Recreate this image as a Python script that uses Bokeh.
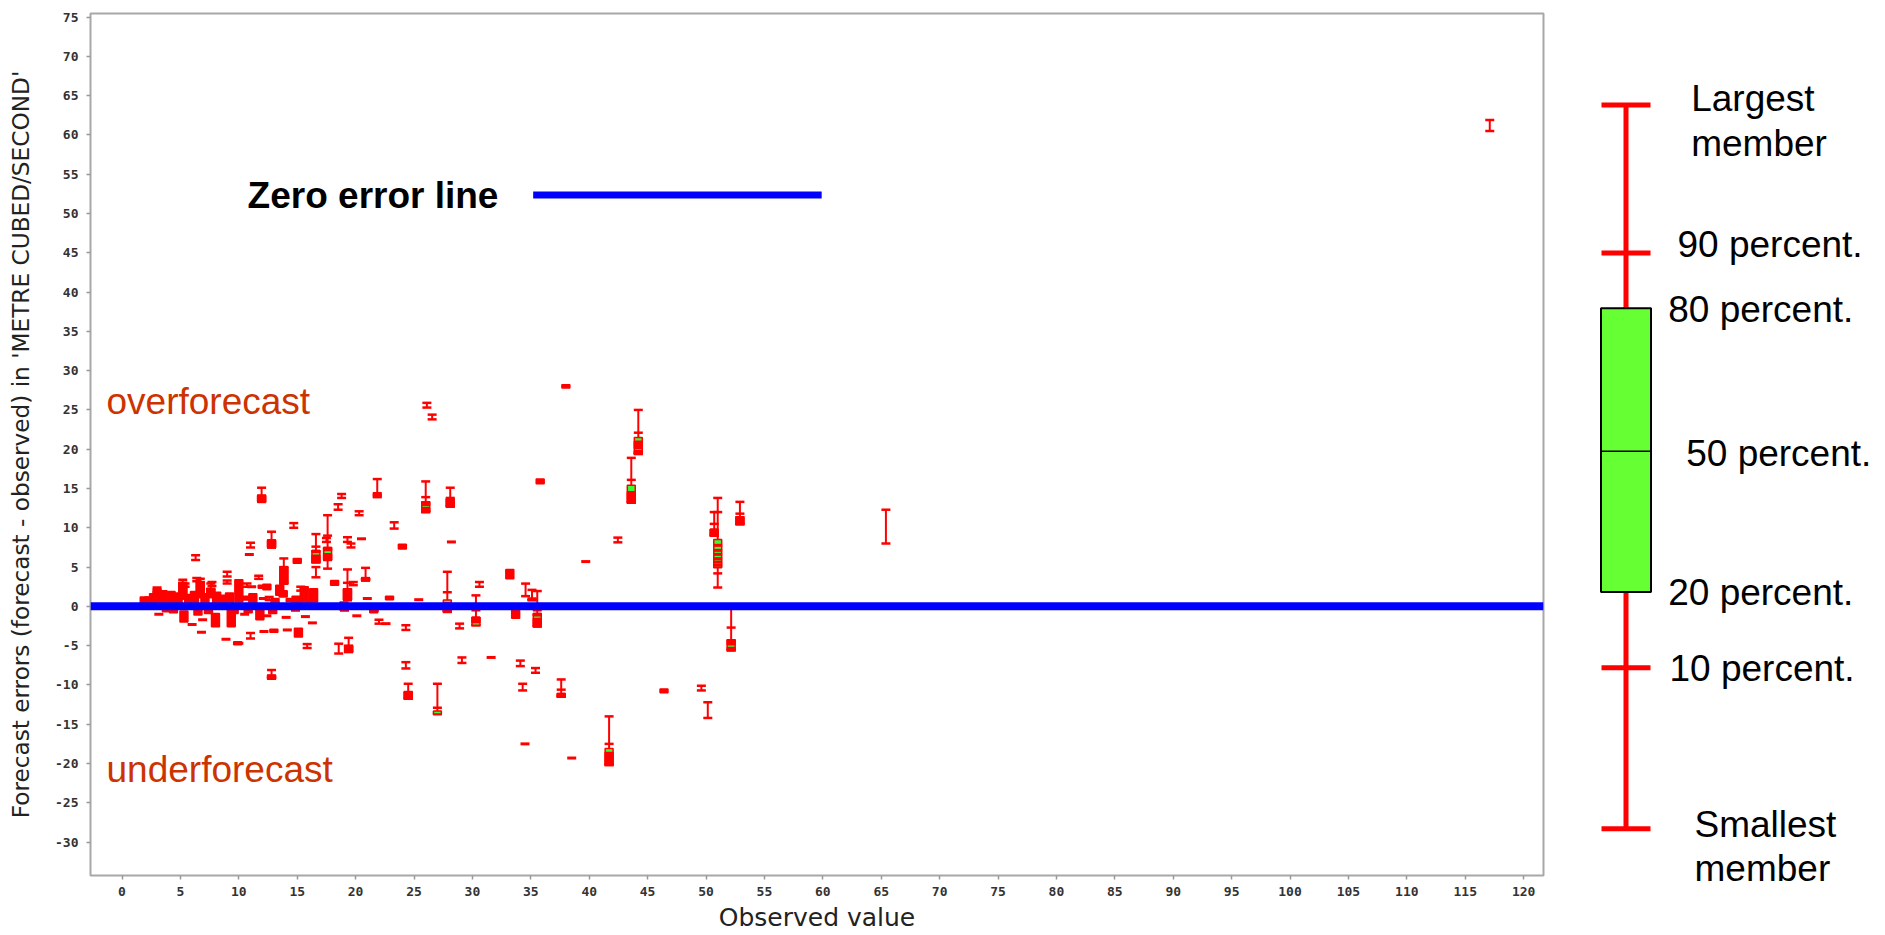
from bokeh.plotting import figure
from bokeh.models import Range1d, FixedTicker, Span, Label, ColumnDataSource
from bokeh.layouts import row
from bokeh.embed import file_html
from bokeh.resources import INLINE

# ---------------- data ----------------
x_ticks = list(range(0, 121, 5))
x_tick_labels = [str(v) for v in x_ticks]
y_ticks = list(range(-30, 76, 5))
y_tick_labels = [str(v) for v in y_ticks]
zero_error = 0.0

# full box-and-whisker summaries
full_obs = [44.2, 43.6, 51.0, 50.7, 52.9, 52.15, 41.7, 35.55, 30.3, 27.85, 26.0, 28.1,
            21.85, 27.0, 24.5, 37.6, 11.95, 12.8, 13.85, 16.6, 17.6, 19.3, 19.4, 12.8,
            20.85, 5.2, 6.7, 7.6, 35.1]
full_min = [19.4, 13.2, 2.4, 9.0, 10.45, -5.6, -20.2, -2.55, -2.4, -0.7, 12.0, 12.7,
            13.9, -13.7, -11.75, -11.5, 13.3, 7.5, 2.9, 5.6, 4.8, 0.8, -5.8, -9.2,
            3.3, 1.0, 1.2, 1.2, 0.8]
full_p10 = [19.4, 13.2, 4.2, 9.0, 10.45, -5.6, -20.2, -2.55, -2.4, -0.7, 12.0, 12.7,
            14.0, -13.7, -11.75, -11.5, 13.3, 7.5, 2.9, 5.6, 5.9, 0.8, -5.8, -9.2,
            3.3, 1.0, 1.2, 1.2, 0.8]
full_p20 = [19.4, 13.2, 4.9, 9.0, 10.45, -5.6, -20.2, -2.55, -2.4, -0.7, 12.0, 12.7,
            14.1, -13.7, -11.75, -11.5, 13.3, 7.5, 2.9, 5.6, 5.9, 0.8, -5.8, -9.2,
            3.3, 1.0, 1.2, 1.2, 0.85]
full_p50 = [20.3, 14.0, 6.6, 9.4, 10.9, -5.0, -19.5, -1.8, -2.0, 0.2, 12.6, 13.2,
            14.2, -13.5, -11.3, -11.3, 13.7, 8.0, 4.0, 6.3, 6.7, 1.5, -5.4, -9.0,
            3.45, 2.0, 2.0, 1.7, 0.9]
full_p80 = [21.5, 15.4, 8.5, 9.8, 11.4, -4.25, -18.1, -0.9, -1.4, 0.8, 13.3, 13.7,
            14.3, -13.3, -10.9, -11.1, 14.1, 8.4, 5.0, 7.1, 7.5, 2.25, -5.0, -8.8,
            3.6, 3.0, 3.1, 2.25, 0.95]
full_p90 = [22.1, 16.1, 12.0, 10.5, 11.8, -2.7, -17.5, -0.5, -0.5, 1.8, 13.9, 13.8,
            14.4, -12.9, -10.9, -10.6, 14.1, 8.4, 5.0, 7.6, 9.0, 3.0, -5.0, -8.8,
            3.6, 3.0, 3.1, 2.25, 1.0]
full_max = [25.0, 18.9, 13.8, 12.0, 13.3, 0.0, -14.0, 1.95, 1.4, 4.4, 15.9, 15.1,
            16.2, -9.85, -9.85, -9.3, 15.1, 9.5, 6.1, 9.2, 11.6, 4.7, -4.0, -8.1,
            4.9, 3.4, 3.5, 2.9, 2.1]

# forecasts whose members all fall inside a narrow range (drawn as solid blocks)
block_obs = [44.2, 44.2, 43.6, 50.7, 52.9, 52.15, 52.15, 41.7, 35.55, 35.55, 30.3, 27.85,
             26.0, 26.0, 28.1, 24.5, 37.6, 11.95, 12.8, 13.85, 16.6, 16.6, 17.6, 17.6,
             19.3, 19.4, 12.8, 20.85, 5.2, 6.7, 7.6,
             38.0, 35.8, 33.2, 33.7, 46.4, 24.0, 15.0, 18.2, 22.9, 21.55, 15.1, 13.0,
             12.4, 13.5, 10.6, 3.0, 2.3, 5.3, 8.0, 9.35, 11.8, 9.9, 16.1, 16.4, 14.4,
             12.0, 13.8, 10.0, 19.0, 15.6,
             1.9, 2.7, 3.5, 4.2, 4.8, 5.7, 6.2, 7.1, 8.1, 8.6, 9.2, 11.2, 14.9, 13.1,
             9.6, 4.4, 6.5, 7.4, 3.8, 10.8, 12.9]
block_lo = [19.4, 20.1, 13.2, 9.0, 10.45, -5.6, -4.9, -20.2, -2.55, -1.2, -2.05, -0.7,
            12.0, 12.85, 12.7, -11.75, -11.5, 13.3, 7.5, 2.9, 5.6, 6.9, 5.9, 7.1,
            0.8, -5.8, -9.2, 3.3, 1.0, 1.2, 1.2,
            27.8, 15.6, 3.5, -1.5, -11.0, 7.3, 5.5, 2.7, 0.85, -0.8, -3.9, -3.3,
            2.1, 1.4, 0.8, 0.35, 0.35, -2.0, -2.6, -2.6, -1.7, -4.9, 0.3, 0.55, 0.6,
            2.3, 1.2, 0.55, -0.5, 0.55,
            0.4, 0.3, 0.3, 0.3, 0.4, 0.3, 0.4, 0.3, 0.3, 0.4, 0.3, 0.4, 0.4, 0.3,
            -0.9, -0.8, -1.1, -0.9, -0.7, -0.8, -0.9]
block_hi = [19.8, 21.0, 14.6, 9.8, 11.4, -5.25, -4.25, -18.6, -1.55, -0.9, -1.4, 0.45,
            12.55, 13.3, 13.7, -10.9, -11.1, 14.1, 8.4, 5.0, 6.5, 7.1, 6.7, 7.5,
            2.25, -5.0, -8.8, 3.6, 3.0, 3.1, 2.25,
            28.2, 16.2, 4.7, -0.5, -10.5, 7.9, 6.1, 3.3, 1.3, -0.3, -2.8, -2.9,
            2.8, 2.7, 1.3, 2.25, 1.2, -0.6, -0.9, -0.4, -0.4, -4.5, 0.7, 2.25, 1.0,
            2.7, 2.0, 3.4, 0.55, 2.5,
            1.2, 1.6, 2.0, 1.9, 1.7, 1.5, 1.9, 1.6, 1.8, 1.4, 1.7, 1.6, 1.3, 1.0,
            -0.3, -0.3, -0.4, -0.3, -0.3, -0.3, -0.4]

# forecasts shown only as a smallest-to-largest member range
span_obs = [117.1, 42.45, 65.4, 49.6, 50.15, 26.1, 26.55, 18.8, 18.5, 20.3, 14.7, 23.3,
            19.3, 19.6, 17.5, 16.6, 19.8, 30.6, 34.55, 22.0, 15.85, 24.3, 28.9, 24.3,
            29.1, 34.1, 35.4, 34.3, 18.55, 9.0, 6.3, 11.0, 12.6, 11.0, 3.0, 5.4,
            6.4, 7.7, 9.0, 10.7, 11.7, 15.3]
span_lo = [60.5, 8.15, 8.0, -10.7, -14.2, 25.3, 23.8, 13.8, 12.3, 11.6, 10.0, 9.9,
           8.2, 7.5, 8.2, 3.7, 2.7, 2.5, 1.3, -2.2, -5.3, -3.0, -2.8, -7.9,
           -7.2, -7.6, -8.45, -10.7, -6.0, 3.8, 5.9, -4.1, 0.8, 7.5, 1.8, 2.5,
           3.2, 2.6, 2.9, 2.5, 3.5, 2.0]
span_hi = [61.9, 8.75, 12.3, -10.1, -12.2, 25.9, 24.4, 14.3, 13.0, 12.1, 10.6, 10.7,
           8.8, 8.0, 8.7, 5.0, 3.1, 3.1, 2.9, -1.7, -4.8, -2.4, -2.2, -7.1,
           -6.5, -6.9, -7.85, -9.85, -4.75, 4.4, 6.5, -3.4, 1.2, 8.1, 2.4, 2.9,
           3.6, 3.1, 3.3, 2.9, 3.9, 2.5]

# forecasts whose members are all equal
dash_obs = [39.7, 31.6, 34.5, 38.5, 28.2, 21.0, 25.4, 20.1, 16.3, 15.7, 22.6, 3.15,
            6.0, 6.9, 6.8, 8.9, 10.5, 12.4, 12.15, 14.05, 11.1, 10.9, 19.05, 21.6,
            14.85, 12.1, 20.5, 51.0, 51.0, 51.0, 51.0, 51.0, 51.0, 14.15, 10.0]
dash_val = [5.7, -6.5, -17.5, -19.3, 8.2, 1.0, 0.85, -1.2, -2.1, -1.3, -2.2, -1.0,
            -2.3, -1.7, -3.3, -4.2, -1.0, -1.2, -3.2, -1.4, 2.5, 6.6, -0.5, -0.5,
            -0.5, 1.0, 8.6, 7.77, 7.13, 6.62, 6.07, 5.64, 5.22, -3.0, -4.7]

# key labels
key_text = ["Largest", "member", "90 percent.", "80 percent.", "50 percent.", "20 percent.",
            "10 percent.", "Smallest", "member"]

RED = "#ff0000"
GREEN = "#33ff33"
BLUE = "#0000ff"

# layout constants (page pixels)
FRAME_TOP, FRAME_BOTTOM = 13, 875
FIG_H = 934
BORDER_BOTTOM = FIG_H - FRAME_BOTTOM

# ---------------- main plot ----------------
p = figure(width=1553, height=FIG_H, x_range=Range1d(-2.7, 121.7), y_range=Range1d(-34.25, 75.45),
           output_backend="svg", toolbar_location=None,
           min_border_left=90, min_border_right=10, min_border_top=FRAME_TOP,
           min_border_bottom=BORDER_BOTTOM)
p.frame_align = False
p.grid.visible = False
p.outline_line_color = "#a8a8a8"
p.outline_line_width = 2
p.background_fill_color = "white"
p.border_fill_color = "white"

for ax in (p.xaxis[0], p.yaxis[0]):
    ax.axis_line_color = None
    ax.major_tick_in = 0
    ax.major_tick_out = 4
    ax.major_tick_line_color = "#999999"
    ax.major_tick_line_width = 1.5
    ax.minor_tick_line_color = None
    ax.major_label_text_font = "DejaVu Sans Mono"
    ax.major_label_text_font_style = "bold"
    ax.major_label_text_font_size = "13px"
    ax.major_label_text_color = "#333333"
    ax.axis_label_text_font = "DejaVu Sans"
    ax.axis_label_text_font_style = "normal"
    ax.axis_label_text_color = "#222222"

p.xaxis.ticker = FixedTicker(ticks=x_ticks)
p.xaxis.major_label_overrides = dict(zip(x_ticks, x_tick_labels))
p.yaxis.ticker = FixedTicker(ticks=y_ticks)
p.yaxis.major_label_overrides = dict(zip(y_ticks, y_tick_labels))
p.xaxis.major_label_standoff = 7
p.yaxis.major_label_standoff = 8
p.xaxis.axis_label = "Observed value"
p.xaxis.axis_label_text_font_size = "25px"
p.xaxis.axis_label_standoff = 4
p.yaxis.axis_label = "Forecast errors (forecast - observed) in 'METRE CUBED/SECOND'"
p.yaxis.axis_label_text_font_size = "23.2px"
p.yaxis.axis_label_standoff = 18

src_full = ColumnDataSource(dict(obs=full_obs, mn=full_min, p10=full_p10, p20=full_p20,
                                 p50=full_p50, p80=full_p80, p90=full_p90, mx=full_max))
src_block = ColumnDataSource(dict(obs=block_obs, lo=block_lo, hi=block_hi))
src_span = ColumnDataSource(dict(obs=span_obs, lo=span_lo, hi=span_hi))
src_dash = ColumnDataSource(dict(obs=dash_obs, val=dash_val))

# whiskers
p.segment(x0="obs", y0="mn", x1="obs", y1="mx", line_color=RED, line_width=2, source=src_full)
p.segment(x0="obs", y0="lo", x1="obs", y1="hi", line_color=RED, line_width=2, source=src_span)
for col in ("mn", "p10", "p90", "mx"):
    p.scatter(x="obs", y=col, marker="dash", size=9, line_color=RED, line_width=2.5, source=src_full)
for col in ("lo", "hi"):
    p.scatter(x="obs", y=col, marker="dash", size=9, line_color=RED, line_width=2.5, source=src_span)
# boxes
p.vbar(x="obs", width=0.68, bottom="p20", top="p80", fill_color=GREEN, line_color=RED,
       line_width=1.5, source=src_full)
p.vbar(x="obs", width=0.68, bottom="lo", top="hi", fill_color=RED, line_color=RED,
       line_width=1.5, source=src_block)
p.scatter(x="obs", y="val", marker="dash", size=9, line_color=RED, line_width=3, source=src_dash)

# zero error line
p.add_layout(Span(location=zero_error, dimension="width", line_color=BLUE, line_width=8))

# in-plot annotations
p.line(x=[35.2, 59.9], y=[52.35, 52.35], line_color=BLUE, line_width=7)
p.add_layout(Label(x=10.75, y=52.35, text="Zero error line", text_font="Liberation Sans",
                   text_font_style="bold", text_font_size="37px", text_color="black",
                   text_baseline="middle"))
p.add_layout(Label(x=-1.33, y=26.1, text="overforecast", text_font="Liberation Sans",
                   text_font_size="37px", text_color="#cc3300", text_baseline="middle"))
p.add_layout(Label(x=-1.33, y=-20.7, text="underforecast", text_font="Liberation Sans",
                   text_font_size="37px", text_color="#cc3300", text_baseline="middle"))

# ---------------- key (page-pixel coordinates) ----------------
k = figure(width=330, height=FIG_H, x_range=Range1d(1553, 1883), y_range=Range1d(FIG_H, 0),
           output_backend="svg", toolbar_location=None, min_border=0,
           x_axis_location=None, y_axis_location=None)
k.frame_align = False
k.grid.visible = False
k.outline_line_color = None
k.background_fill_color = "white"
k.border_fill_color = "white"

kx = 1625.5
cap_y = [104.6, 252.5, 667.2, 828.3]
k.segment(x0=[kx], y0=[cap_y[0]], x1=[kx], y1=[cap_y[-1]], line_color=RED, line_width=5)
k.segment(x0=[kx - 24.5] * 4, y0=cap_y, x1=[kx + 24.5] * 4, y1=cap_y, line_color=RED, line_width=5)
k.quad(left=[kx - 25], right=[kx + 25], top=[307.8], bottom=[591.5], fill_color="#66ff33",
       line_color="black", line_width=2)
k.segment(x0=[kx - 25], y0=[450.8], x1=[kx + 25], y1=[450.8], line_color="black", line_width=1.5)

key_tx = [1690.7, 1690.7, 1677, 1667.7, 1685.7, 1667.7, 1669, 1694, 1694]
key_ty = [98.3, 143, 244, 309, 453, 592, 667.6, 823.5, 868]
for t, tx, ty in zip(key_text, key_tx, key_ty):
    k.add_layout(Label(x=tx, y=ty, text=t, text_font="Liberation Sans", text_font_size="37px",
                       text_color="black", text_baseline="middle", text_align="left"))

layout = row(p, k)
open("out.html", "w").write(file_html(layout, INLINE))
